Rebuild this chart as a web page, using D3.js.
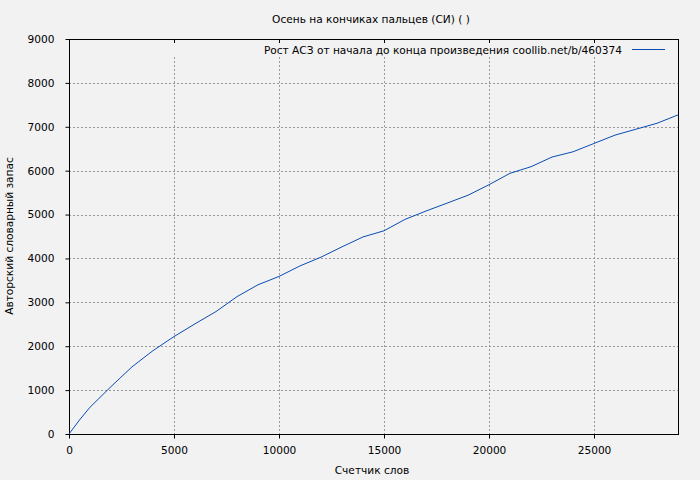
<!DOCTYPE html>
<html>
<head>
<meta charset="utf-8">
<script src="https://cdn.jsdelivr.net/npm/d3@7"></script>
<style>
  body { margin: 0; background: #f2f2f2; }
  text { font-family: "DejaVu Sans", sans-serif; font-size: 10.6px; fill: #000; }
</style>
</head>
<body>
<script>
// word counter vs author vocabulary
var words = [0, 500, 1000, 2000, 3000, 4000, 5000, 6000, 7000, 8000, 9000, 10000, 11000, 12000, 13000, 14000, 15000,
             16000, 17000, 18000, 19000, 20000, 21000, 22000, 23000, 24000, 25000, 26000, 27000, 28000, 29000];
var vocab = [0, 320, 610, 1080, 1530, 1900, 2220, 2510, 2790, 3130, 3400, 3590, 3830, 4030, 4265, 4490, 4630,
             4890, 5080, 5260, 5440, 5680, 5940, 6090, 6310, 6430, 6620, 6810, 6945, 7080, 7270];
var xTicks = [0, 5000, 10000, 15000, 20000, 25000];
var yTicks = [0, 1000, 2000, 3000, 4000, 5000, 6000, 7000, 8000, 9000];

var title = 'Осень на кончиках пальцев (СИ) ( )';
var legendLabel = 'Рост АСЗ от начала до конца произведения coollib.net/b/460374';

var W = 700, H = 480;
var pl = 69, pr = 678, pt = 39, pb = 434;

var svg = d3.select('body').append('svg').attr('width', W).attr('height', H);
svg.append('rect').attr('width', W).attr('height', H).attr('fill', '#f2f2f2');

var x = d3.scaleLinear().domain([0, 29000]).range([pl, pr]);
var y = d3.scaleLinear().domain([0, 9000]).range([pb, pt]);

// grid
var grid = svg.append('g').attr('stroke', '#999').attr('stroke-dasharray', '2,2').attr('stroke-width', 1);
grid.selectAll('line.gy')
  .data(yTicks.filter(d => d > 0 && d < 9000))
  .enter().append('line')
    .attr('x1', pl).attr('x2', pr)
    .attr('y1', d => Math.round(y(d)) + 0.5).attr('y2', d => Math.round(y(d)) + 0.5);
grid.selectAll('line.gx')
  .data(xTicks.filter(d => d > 0))
  .enter().append('line')
    .attr('x1', d => Math.round(x(d)) + 0.5).attr('x2', d => Math.round(x(d)) + 0.5)
    .attr('y1', 57).attr('y2', pb);

// axes
var xAxis = svg.append('g').attr('transform', 'translate(0,' + (pb + 0.5) + ')')
  .call(d3.axisBottom(x).tickValues(xTicks).tickSize(4).tickPadding(8).tickFormat(d3.format('d')));
var yAxis = svg.append('g').attr('transform', 'translate(' + (pl + 0.5) + ',0)')
  .call(d3.axisLeft(y).tickValues(yTicks).tickSize(4).tickPadding(11).tickFormat(d3.format('d')));
[xAxis, yAxis].forEach(function(a) {
  a.select('.domain').remove();
  a.selectAll('line').attr('stroke', '#000');
  a.selectAll('text').style('font-family', '"DejaVu Sans", sans-serif').style('font-size', '10.6px');
});

// top mirror ticks
svg.append('g').selectAll('line')
  .data(xTicks.filter(d => d > 0))
  .enter().append('line')
    .attr('x1', d => Math.round(x(d)) + 0.5).attr('x2', d => Math.round(x(d)) + 0.5)
    .attr('y1', pt).attr('y2', pt + 4)
    .attr('stroke', '#000');

// frame
svg.append('rect')
  .attr('x', pl + 0.5).attr('y', pt + 0.5)
  .attr('width', pr - pl).attr('height', pb - pt)
  .attr('fill', 'none').attr('stroke', '#000');

// series line
var line = d3.line().x((d, i) => x(words[i])).y(d => y(d));
svg.append('path')
  .attr('d', line(vocab))
  .attr('fill', 'none')
  .attr('stroke', '#0a4cb4')
  .attr('stroke-width', 1);

// legend
svg.append('text').attr('x', 622).attr('y', 54).attr('text-anchor', 'end').text(legendLabel);
svg.append('line').attr('x1', 632).attr('x2', 665).attr('y1', 49.5).attr('y2', 49.5)
  .attr('stroke', '#0a4cb4');

// titles
svg.append('text').attr('x', 371).attr('y', 23).attr('text-anchor', 'middle').text(title);
svg.append('text').attr('x', 372).attr('y', 474).attr('text-anchor', 'middle').text('Счетчик слов');
svg.append('text').attr('transform', 'translate(13,236) rotate(-90)').attr('text-anchor', 'middle')
  .text('Авторский словарный запас');
</script>
</body>
</html>
